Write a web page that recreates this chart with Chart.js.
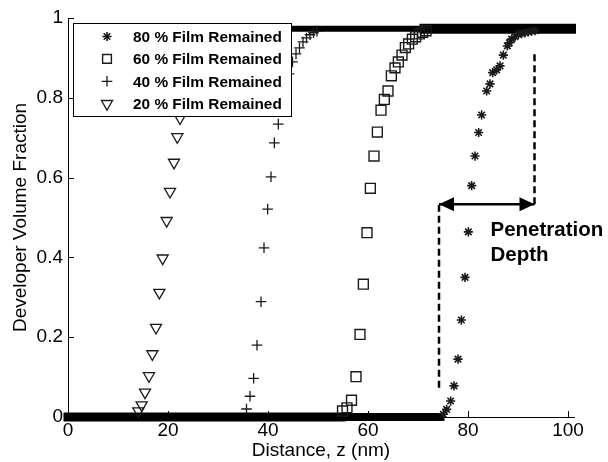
<!DOCTYPE html>
<html>
<head>
<meta charset="utf-8">
<script src="https://cdn.jsdelivr.net/npm/chart.js@4.4.0/dist/chart.umd.min.js"></script>
<style>
  html, body { margin: 0; padding: 0; background: #fff; }
  #wrap { width: 608px; height: 462px; }
</style>
</head>
<body>
<div id="wrap"><canvas id="profile" width="608" height="462"></canvas></div>
<script>
// transition points: z in nm, developer volume fraction
const z80 = [75.07, 75.73, 76.53, 77.2, 78.0, 78.67, 79.4, 80.07, 80.73, 81.4, 82.13, 82.73, 83.73, 84.4, 84.93, 85.73, 86.4, 87.07, 87.87, 88.27, 88.73, 89.4, 90.07, 90.73, 91.4, 92.07, 92.73, 93.4];
const v80 = [0.007, 0.019, 0.040, 0.078, 0.145, 0.243, 0.350, 0.464, 0.580, 0.654, 0.713, 0.757, 0.817, 0.835, 0.863, 0.870, 0.880, 0.907, 0.930, 0.938, 0.947, 0.953, 0.959, 0.961, 0.963, 0.965, 0.967, 0.968];

const z60 = [54.9, 55.8, 56.7, 57.6, 58.4, 59.07, 59.8, 60.47, 61.2, 61.87, 62.6, 63.27, 64.0, 64.67, 65.4, 66.07, 66.8, 67.47, 68.13, 68.87, 69.53, 70.27, 70.93, 71.6];
const v60 = [0.015, 0.023, 0.042, 0.101, 0.207, 0.333, 0.462, 0.573, 0.654, 0.714, 0.769, 0.796, 0.817, 0.855, 0.875, 0.890, 0.907, 0.926, 0.935, 0.947, 0.953, 0.960, 0.964, 0.968];

const z40 = [35.7, 36.4, 37.13, 37.8, 38.6, 39.2, 39.93, 40.6, 41.27, 42.07, 42.8, 43.5, 44.2, 44.9, 45.6, 46.3, 47.0, 47.7, 48.4, 49.1, 49.8];
const v40 = [0.020, 0.052, 0.097, 0.180, 0.289, 0.424, 0.521, 0.602, 0.687, 0.734, 0.780, 0.825, 0.860, 0.890, 0.910, 0.925, 0.940, 0.950, 0.958, 0.963, 0.967];

const z20 = [14.07, 14.73, 15.4, 16.2, 16.87, 17.6, 18.27, 18.93, 19.73, 20.4, 21.2, 21.87, 22.4, 23.1, 23.8, 24.5, 25.2, 25.9, 26.6, 27.3, 28.0, 28.7, 29.4];
const v20 = [0.015, 0.030, 0.062, 0.103, 0.158, 0.224, 0.312, 0.398, 0.492, 0.565, 0.638, 0.702, 0.749, 0.790, 0.830, 0.860, 0.890, 0.910, 0.930, 0.945, 0.955, 0.962, 0.967];

// flat stretches where the markers pile up into a bar
const floorLevel = [0, 0];
const plateauLevel = [0.973, 0.973];
const floorSolidZ = [0, 54.6];
const floorCombZ = [54.6, 74.5];
const topCombZ = [30, 71.3];
const topSolidZ = [71.3, 100.6];

// penetration depth annotation
const leftGuideZ = [74.2, 74.2];
const leftGuideV = [0.073, 0.533];
const rightGuideZ = [93.3, 93.3];
const rightGuideV = [0.533, 0.916];
const arrowZ = [74.2, 93.3];
const arrowV = [0.533, 0.533];
const noteLines = ['Penetration', 'Depth'];
const noteZ = 84.5;
const noteV = [0.453, 0.390];

const xTicks = [0, 20, 40, 60, 80, 100];
const yTicks = [0, 0.2, 0.4, 0.6, 0.8, 1];

const legendLabels = ['80 % Film Remained', '60 % Film Remained', '40 % Film Remained', '20 % Film Remained'];

const FONT = '"Liberation Sans", Arial, Helvetica, sans-serif';
Chart.defaults.font.family = FONT;
Chart.defaults.color = '#000';

function points(zs, vs) {
    return zs.map(function (z, i) { return {x: z, y: vs[i]}; });
}

const markerStyles = [
    {pointStyle: 'star', radius: 4.6, rotation: 0, borderWidth: 1.6},
    {pointStyle: 'rect', radius: 7, rotation: 0, borderWidth: 1.4},
    {pointStyle: 'cross', radius: 5.3, rotation: 0, borderWidth: 1.3},
    {pointStyle: 'triangle', radius: 6.4, rotation: 180, borderWidth: 1.3}
];

function markerSet(label, zs, vs, st) {
    return {
        label: label,
        data: points(zs, vs),
        showLine: false,
        pointStyle: st.pointStyle,
        pointRadius: st.radius,
        pointRotation: st.rotation,
        pointBorderWidth: st.borderWidth,
        pointBorderColor: '#1a1a1a',
        pointBackgroundColor: 'rgba(0,0,0,0)',
        clip: false
    };
}

function bandSet(zs, vs, width, dash) {
    return {
        data: points(zs, vs),
        showLine: true,
        borderColor: '#000',
        borderWidth: width,
        borderDash: dash || [],
        borderCapStyle: 'square',
        pointRadius: 0,
        clip: false
    };
}

function guideSet(zs, vs, dash) {
    return {
        data: points(zs, vs),
        showLine: true,
        borderColor: '#000',
        borderWidth: 2.5,
        borderDash: dash,
        borderCapStyle: 'butt',
        pointRadius: 0,
        clip: false
    };
}

const inwardTicks = {
    id: 'inwardTicks',
    afterDatasetsDraw(chart) {
        const ctx = chart.ctx, area = chart.chartArea;
        const x = chart.scales.x, y = chart.scales.y;
        ctx.save();
        ctx.strokeStyle = '#000';
        ctx.lineWidth = 1;
        ctx.beginPath();
        x.ticks.forEach(function (t) {
            const px = Math.round(x.getPixelForValue(t.value)) + 0.5;
            ctx.moveTo(px, area.bottom);
            ctx.lineTo(px, area.bottom - 6);
        });
        y.ticks.forEach(function (t) {
            const py = Math.round(y.getPixelForValue(t.value)) + 0.5;
            ctx.moveTo(area.left, py);
            ctx.lineTo(area.left + 6, py);
        });
        ctx.stroke();
        ctx.restore();
    }
};

const depthNote = {
    id: 'depthNote',
    afterDatasetsDraw(chart) {
        const ctx = chart.ctx;
        const x = chart.scales.x, y = chart.scales.y;
        const x0 = x.getPixelForValue(arrowZ[0]);
        const x1 = x.getPixelForValue(arrowZ[1]);
        const py = y.getPixelForValue(arrowV[0]);
        ctx.save();
        ctx.fillStyle = '#000';
        ctx.beginPath();
        ctx.moveTo(x0, py);
        ctx.lineTo(x0 + 15, py - 7);
        ctx.lineTo(x0 + 15, py + 7);
        ctx.closePath();
        ctx.moveTo(x1, py);
        ctx.lineTo(x1 - 15, py - 7);
        ctx.lineTo(x1 - 15, py + 7);
        ctx.closePath();
        ctx.fill();

        ctx.font = 'bold 20.5px ' + FONT;
        ctx.textAlign = 'left';
        ctx.textBaseline = 'alphabetic';
        noteLines.forEach(function (line, i) {
            ctx.fillText(line, x.getPixelForValue(noteZ), y.getPixelForValue(noteV[i]));
        });
        ctx.restore();
    }
};

const legendBox = {
    id: 'legendBox',
    afterDatasetsDraw(chart) {
        const ctx = chart.ctx, area = chart.chartArea;
        const left = area.left + 5, top = area.top + 5, w = 218, h = 93;
        ctx.save();
        ctx.fillStyle = '#fff';
        ctx.fillRect(left, top, w, h);
        ctx.strokeStyle = '#000';
        ctx.lineWidth = 1;
        ctx.strokeRect(left + 0.5, top + 0.5, w, h);

        ctx.font = 'bold 15.4px ' + FONT;
        ctx.textBaseline = 'middle';
        legendLabels.forEach(function (label, i) {
            const rowY = top + 13.5 + i * 22.4;
            const st = markerStyles[i];
            ctx.strokeStyle = '#1a1a1a';
            ctx.fillStyle = 'rgba(0,0,0,0)';
            ctx.lineWidth = st.borderWidth;
            Chart.helpers.drawPoint(ctx, {
                pointStyle: st.pointStyle,
                radius: st.pointStyle === 'rect' ? 6.2 : st.radius,
                rotation: st.rotation,
                borderWidth: st.borderWidth
            }, left + 34, rowY);
            ctx.fillStyle = '#000';
            ctx.fillText(label, left + 60, rowY + 1);
        });
        ctx.restore();
    }
};

function plainLabel(value) {
    return String(value);
}

new Chart(document.getElementById('profile'), {
    type: 'scatter',
    data: {
        datasets: [
            markerSet(legendLabels[0], z80, v80, markerStyles[0]),
            markerSet(legendLabels[1], z60, v60, markerStyles[1]),
            markerSet(legendLabels[2], z40, v40, markerStyles[2]),
            markerSet(legendLabels[3], z20, v20, markerStyles[3]),
            bandSet(floorSolidZ, floorLevel, 9),
            bandSet(floorCombZ, floorLevel, 8, [1.4, 1.6]),
            bandSet(topCombZ, plateauLevel, 6, [1.5, 1.6]),
            bandSet(topSolidZ, plateauLevel, 10),
            guideSet(leftGuideZ, leftGuideV, [7, 4]),
            guideSet(rightGuideZ, rightGuideV, [7, 4]),
            guideSet(arrowZ, arrowV, [])
        ]
    },
    options: {
        responsive: false,
        animation: false,
        events: [],
        layout: {padding: {top: 18, right: 34, left: 0, bottom: 0}},
        plugins: {
            legend: {display: false},
            tooltip: {enabled: false}
        },
        scales: {
            x: {
                type: 'linear',
                min: 0,
                max: 101.2,
                afterFit: function (s) { s.height = 45; },
                afterBuildTicks: function (s) { s.ticks = xTicks.map(function (v) { return {value: v}; }); },
                grid: {display: false, drawTicks: false},
                border: {display: true, color: '#000', width: 1},
                ticks: {padding: 2, font: {size: 19}, color: '#000', callback: plainLabel},
                title: {display: true, text: 'Distance, z (nm)', font: {size: 19}, color: '#000', padding: {top: 0, bottom: 0}}
            },
            y: {
                type: 'linear',
                min: 0,
                max: 1,
                afterFit: function (s) { s.width = 68; },
                afterBuildTicks: function (s) { s.ticks = yTicks.map(function (v) { return {value: v}; }); },
                grid: {display: false, drawTicks: false},
                border: {display: true, color: '#000', width: 1},
                ticks: {padding: 5, font: {size: 19}, color: '#000', callback: plainLabel},
                title: {display: true, text: 'Developer Volume Fraction', font: {size: 19}, color: '#000', padding: {top: 9, bottom: 0}}
            }
        }
    },
    plugins: [inwardTicks, depthNote, legendBox]
});
</script>
</body>
</html>
